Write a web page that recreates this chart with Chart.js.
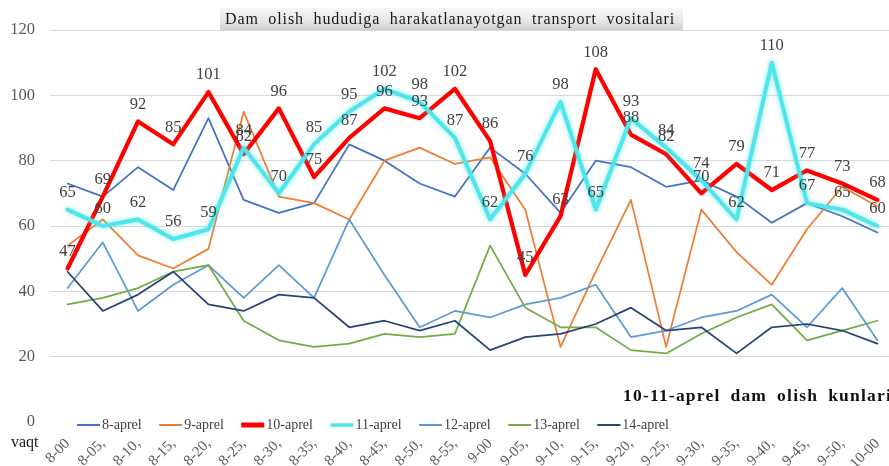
<!DOCTYPE html>
<html>
<head>
<meta charset="utf-8">
<script src="https://cdn.jsdelivr.net/npm/chart.js@4.4.1/dist/chart.umd.min.js"></script>
<style>
  html, body { margin: 0; padding: 0; overflow: hidden; background: #fff; }
  #wrap { width: 895px; height: 466px; }
</style>
</head>
<body>
<div id="wrap"><canvas id="chart" width="895" height="466"></canvas></div>
<script>
// categories (time of day)
const times = ['8-00', '8-05,', '8-10,', '8-15,', '8-20,', '8-25,', '8-30,', '8-35,', '8-40,', '8-45,', '8-50,', '8-55,',
               '9-00', '9-05,', '9-10,', '9-15,', '9-20,', '9-25,', '9-30,', '9-35,', '9-40,', '9-45,', '9-50,', '10-00'];

// vehicle counts per day
const apr8  = [73, 69, 78, 71, 93, 68, 64, 67, 85, 80, 73, 69, 84, 76, 64, 80, 78, 72, 74, 69, 61, 67, 63, 58];
const apr9  = [54, 62, 51, 47, 53, 95, 69, 67, 62, 80, 84, 79, 81, 65, 23, 46, 68, 23, 65, 52, 42, 59, 72, 66];
const apr10 = [47, 69, 92, 85, 101, 82, 96, 75, 87, 96, 93, 102, 86, 45, 63, 108, 88, 82, 70, 79, 71, 77, 73, 68];
const apr11 = [65, 60, 62, 56, 59, 84, 70, 85, 95, 102, 98, 87, 62, 76, 98, 65, 93, 84, 74, 62, 110, 67, 65, 60];
const apr12 = [41, 55, 34, 42, 48, 38, 48, 38, 62, 45, 29, 34, 32, 36, 38, 42, 26, 28, 32, 34, 39, 29, 41, 25];
const apr13 = [36, 38, 41, 46, 48, 31, 25, 23, 24, 27, 26, 27, 54, 35, 29, 29, 22, 21, 27, 32, 36, 25, 28, 31];
const apr14 = [46, 34, 39, 46, 36, 34, 39, 38, 29, 31, 28, 31, 22, 26, 27, 30, 35, 28, 29, 21, 29, 30, 28, 24];

const seriesNames = ['8-aprel', '9-aprel', '10-aprel', '11-aprel', '12-aprel', '13-aprel', '14-aprel'];
const yTicks = [0, 20, 40, 60, 80, 100, 120];

const titleText = 'Dam olish hududiga harakatlanayotgan transport vositalari';
const noteText = '10-11-aprel dam olish kunlari';
const axisName = 'vaqt';

const SERIF = '"Liberation Serif", "Times New Roman", serif';
const colors = ['#4472c4', '#ed7d31', '#ff0000', '#4ee6ea', '#5b9bd5', '#70ad47', '#264478'];
const widths = [1.75, 1.75, 4.25, 4, 1.75, 1.75, 1.75];
const labelled = [2, 3]; // only the weekend series carry value labels

const allSeries = [apr8, apr9, apr10, apr11, apr12, apr13, apr14];
const datasets = allSeries.map((vals, i) => ({
    label: seriesNames[i],
    data: vals,
    borderColor: colors[i],
    backgroundColor: colors[i],
    borderWidth: widths[i],
    pointRadius: 0,
    tension: 0,
    borderJoinStyle: 'round',
    borderCapStyle: 'round',
    order: -i   // later series on top, like the original
}));

// soft glow on the 11-aprel line
const glowPlugin = {
    id: 'glow',
    beforeDatasetDraw(chart, args) {
        if (args.index !== 3) return;
        const ctx = chart.ctx;
        ctx.save();
        ctx.shadowColor = 'rgba(70, 225, 230, 0.7)';
        ctx.shadowBlur = 5;
    },
    afterDatasetDraw(chart, args) {
        if (args.index !== 3) return;
        chart.ctx.restore();
    }
};

// value labels above points of 10-aprel and 11-aprel
const valueLabels = {
    id: 'valueLabels',
    afterDatasetsDraw(chart) {
        const ctx = chart.ctx;
        ctx.save();
        ctx.font = '16.5px ' + SERIF;
        ctx.fillStyle = '#404040';
        ctx.textAlign = 'center';
        ctx.textBaseline = 'middle';
        labelled.forEach(di => {
            const meta = chart.getDatasetMeta(di);
            meta.data.forEach((pt, i) => {
                ctx.fillText(String(chart.data.datasets[di].data[i]), pt.x, pt.y - 17);
            });
        });
        ctx.restore();
    }
};

// title box, note, axis name and legend
const decor = {
    id: 'decor',
    afterDraw(chart) {
        const ctx = chart.ctx;
        ctx.save();

        // title box with gray gradient
        const bx = 220, by = 8, bw = 463, bh = 22;
        const g = ctx.createLinearGradient(0, by, 0, by + bh);
        g.addColorStop(0, '#f7f7f7');
        g.addColorStop(0.55, '#e8e8e8');
        g.addColorStop(1, '#cfcfcf');
        ctx.fillStyle = g;
        ctx.fillRect(bx, by, bw, bh);

        ctx.font = '16px ' + SERIF;
        ctx.fillStyle = '#1a1a1a';
        ctx.textBaseline = 'middle';
        ctx.textAlign = 'left';
        ctx.letterSpacing = '0.9px';
        const words = titleText.split(' ');
        const ws = words.map(w => ctx.measureText(w).width);
        const total = 450;
        const gap = (total - ws.reduce((a, b) => a + b, 0)) / (words.length - 1);
        let x = 225;
        words.forEach((w, i) => {
            ctx.fillText(w, x, by + bh / 2 + 1);
            x += ws[i] + gap;
        });

        // note at bottom right
        ctx.font = 'bold 17.5px ' + SERIF;
        ctx.fillStyle = '#111';
        ctx.letterSpacing = '1.2px';
        x = 623;
        noteText.split(' ').forEach(w => {
            ctx.fillText(w, x, 396);
            x += ctx.measureText(w).width + 10;
        });
        ctx.letterSpacing = '0px';

        // axis name
        ctx.font = '16px ' + SERIF;
        ctx.fillStyle = '#1a1a1a';
        ctx.fillText(axisName, 11, 443);

        // legend
        ctx.font = '14px ' + SERIF;
        let lx = 77;
        const ly = 425;
        seriesNames.forEach((name, i) => {
            ctx.strokeStyle = colors[i];
            ctx.lineWidth = i === 2 ? 5 : (i === 3 ? 3.5 : 2);
            ctx.beginPath();
            ctx.moveTo(lx, ly);
            ctx.lineTo(lx + 23, ly);
            ctx.stroke();
            ctx.fillStyle = '#404040';
            ctx.fillText(name, lx + 25, ly);
            lx += 25 + ctx.measureText(name).width + 17.5;
        });

        ctx.restore();
    }
};

new Chart(document.getElementById('chart'), {
    type: 'line',
    data: { labels: times, datasets: datasets },
    options: {
        responsive: false,
        animation: false,
        layout: { padding: { top: 30, left: 0, right: 0, bottom: 0 } },
        plugins: {
            legend: { display: false },
            tooltip: { enabled: false },
            title: { display: false }
        },
        scales: {
            x: {
                offset: true,
                grid: { display: false },
                border: { display: false },
                ticks: {
                    autoSkip: false,
                    maxRotation: 45,
                    minRotation: 45,
                    padding: 5,
                    color: '#595959',
                    font: { family: SERIF, size: 15 }
                },
                afterFit(scale) {
                    scale.height = 44;
                    scale.paddingLeft = 0;
                    scale.paddingRight = 0;
                }
            },
            y: {
                min: yTicks[0],
                max: yTicks[yTicks.length - 1],
                afterBuildTicks(scale) { scale.ticks = yTicks.map(v => ({ value: v })); },
                grid: {
                    drawTicks: false,
                    color: c => (c.tick && c.tick.value === 0) ? 'rgba(0,0,0,0)' : '#d9d9d9',
                    lineWidth: 1
                },
                border: { display: false },
                ticks: {
                    padding: 15,
                    color: '#595959',
                    font: { family: SERIF, size: 16.5 }
                },
                afterFit(scale) { scale.width = 50; }
            }
        }
    },
    plugins: [glowPlugin, valueLabels, decor]
});
</script>
</body>
</html>
